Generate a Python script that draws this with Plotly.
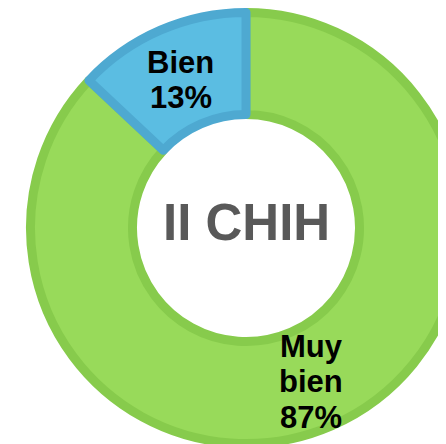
import math
import plotly.graph_objects as go

# Data
categories = ["Muy bien", "Bien"]
values = [87, 13]
label_lines = [["Muy", "bien"], ["Bien"]]
center_title = "II CHIH"

fill_colors = ["#98DA5A", "#5BBDE2"]
edge_colors = ["#87CB4C", "#4EA9D1"]

FONT = "Liberation Sans, Arial, sans-serif"

W, H = 458, 440
border = 9
# visible outer circle (figure px): center (238, 220), radius 220
cx, cy, R = 238, 220, 220
r_in_visible = 109
r_out = R - border / 2
hole = (r_in_visible + border / 2) / r_out

domain_x = [(cx - r_out) / W, (cx + r_out) / W]
domain_y = [1 - (cy + r_out) / H, 1 - (cy - r_out) / H]

fig = go.Figure(
    go.Pie(
        labels=categories,
        values=values,
        textinfo="none",
        sort=False,
        direction="clockwise",
        rotation=0,
        hole=hole,
        marker=dict(colors=fill_colors, line=dict(color=edge_colors, width=border)),
        domain=dict(x=domain_x, y=domain_y),
        showlegend=False,
        hoverinfo="label+percent",
    )
)

# slice labels at each slice's mid-angle, mid-ring radius
total = sum(values)
r_label = (r_in_visible + R) / 2
pitch = 35.5
cum = 0
annotations = []
for lines, v in zip(label_lines, values):
    mid = (cum + v / 2) / total * 2 * math.pi  # clockwise from 12 o'clock
    cum += v
    px = cx + r_label * math.sin(mid)
    py = cy - r_label * math.cos(mid)
    all_lines = lines + [f"{round(v / total * 100)}%"]
    n = len(all_lines)
    for i, line in enumerate(all_lines):
        annotations.append(dict(
            x=px / W, y=1 - py / H, xref="paper", yref="paper",
            text=line, showarrow=False, xanchor="center", yanchor="middle",
            yshift=-(i - (n - 1) / 2) * pitch - 3,
            font=dict(family=FONT, size=31, color="#000000", weight="bold"),
        ))

annotations.append(dict(
    x=cx / W, y=1 - cy / H, xref="paper", yref="paper",
    text=center_title, showarrow=False, xanchor="center", yanchor="middle",
    yshift=5.5,
    font=dict(family=FONT, size=51, color="#595959", weight="bold"),
))

fig.update_layout(
    width=W,
    height=H,
    margin=dict(l=0, r=0, t=0, b=0),
    paper_bgcolor="#FFFFFF",
    plot_bgcolor="#FFFFFF",
    showlegend=False,
    annotations=annotations,
)

fig.write_html("out.html")
